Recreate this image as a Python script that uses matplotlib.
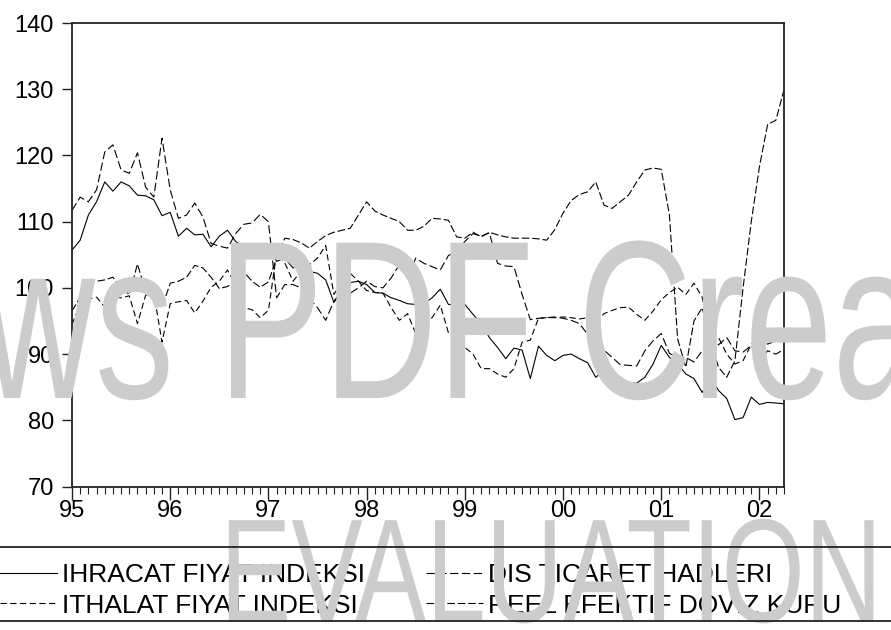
import numpy as np
import matplotlib
matplotlib.use("Agg")
import matplotlib.pyplot as plt
from matplotlib.lines import Line2D
from matplotlib.patches import PathPatch
from matplotlib.textpath import TextPath
from matplotlib.font_manager import FontProperties
from matplotlib.transforms import Affine2D

plt.rcParams["font.family"] = ["Liberation Sans", "DejaVu Sans"]
plt.rcParams["lines.scale_dashes"] = False

W, H = 891, 630

year_labels = ["95", "96", "97", "98", "99", "00", "01", "02"]

# monthly indices, 1995M01 - 2002M04
ihracat = [
    105.7, 107.2, 111.0, 113.0, 116.0, 114.6, 116.0, 115.4, 114.0, 113.9, 113.3, 110.9,
    111.4, 107.8, 109.0, 108.0, 108.1, 106.2, 107.8, 108.7, 107.0, 106.2, 106.5, 105.8,
    106.3, 104.0, 104.5, 103.0, 103.5, 102.5, 102.2, 101.2, 97.8, 99.5, 100.8, 101.0,
    100.5, 99.3, 99.2, 98.5, 98.1, 97.6, 97.5, 97.6, 98.5, 99.8, 97.5, 97.4,
    97.5, 96.0, 94.6, 92.5, 91.0, 89.3, 90.9, 90.6, 86.3, 91.2, 89.8, 89.0,
    89.8, 90.0, 89.3, 88.7, 86.5, 87.5, 87.0, 86.5, 85.6, 85.6, 86.5, 88.5,
    91.3, 89.5, 88.5, 87.0, 86.3, 84.2, 86.5, 84.5, 83.3, 80.1, 80.4, 83.5,
    82.4, 82.7, 82.6, 82.5,
]
ithalat = [
    94.5, 97.5, 98.3, 98.6, 97.1, 98.6, 98.5, 98.8, 94.6, 98.9, 99.2, 91.8,
    97.6, 97.9, 98.1, 96.2, 98.0, 100.1, 101.0, 102.7, 100.4, 97.0, 96.7, 95.5,
    96.6, 105.2, 103.8, 101.0, 102.5, 103.5, 104.5, 106.4, 99.0, 101.0, 102.2, 101.0,
    99.6, 99.3, 99.2, 97.0, 95.1, 96.1, 93.1, 95.0, 95.5, 97.4, 93.2, 92.2,
    91.0, 90.0, 87.8, 87.8, 87.0, 86.5, 87.8, 91.8, 92.1, 95.4, 95.5, 95.5,
    95.6, 95.5, 95.3, 95.5, 94.6, 96.1, 96.6, 97.0, 97.1, 96.0, 95.1, 96.5,
    98.2, 99.3, 100.1, 99.0, 100.7, 98.6, 93.0, 92.5, 90.0, 88.5, 89.0, 91.5,
    92.5, 91.5, 92.0, 92.0,
]
dis_ticaret = [
    111.7, 113.7, 113.0, 114.8, 120.5, 121.6, 117.8, 117.3, 120.4, 115.2, 113.7, 122.6,
    114.8, 110.5, 111.0, 112.8, 110.7, 106.7, 106.3, 106.0, 108.2, 109.6, 109.8, 111.1,
    110.0, 98.5, 100.5, 100.5, 100.0, 98.5, 97.0, 95.1, 98.0, 99.5, 99.2, 100.0,
    101.0, 100.2, 100.0, 101.5, 103.5, 101.6, 104.5, 103.7, 103.2, 102.7, 104.9, 105.4,
    107.0, 108.2, 107.8, 108.3, 103.7, 103.3, 103.2, 99.0, 95.2, 95.4, 95.5, 95.6,
    95.4, 95.1, 94.6, 93.0, 92.0, 90.6, 89.5, 88.4, 88.3, 88.2, 90.5, 92.0,
    93.1, 90.1, 89.5, 89.5, 88.8, 90.5, 92.5, 91.4, 92.5, 90.5, 90.3, 91.3,
    89.0, 90.5, 90.0, 90.7,
]
reel_kur = [
    96.5, 98.6, 100.7, 101.0, 101.2, 101.6, 100.0, 99.0, 103.6, 99.5, 98.5, 97.0,
    100.7, 101.0, 101.6, 103.4, 103.0, 101.6, 99.9, 100.2, 101.0, 102.4, 101.0, 100.1,
    100.9, 104.5, 107.5, 107.3, 106.8, 106.0, 107.0, 107.9, 108.4, 108.7, 109.0, 111.0,
    113.0, 111.6, 111.0, 110.5, 110.0, 108.7, 108.7, 109.3, 110.5, 110.4, 110.2, 107.7,
    107.5, 108.4, 107.7, 108.4, 108.0, 107.7, 107.5, 107.5, 107.5, 107.4, 107.2, 108.8,
    111.3, 113.2, 114.1, 114.5, 116.0, 112.5, 112.0, 113.0, 114.0, 116.0, 117.8, 118.1,
    117.9, 111.0, 92.3, 88.0, 95.0, 97.0, 92.0, 88.0, 86.5, 89.0, 100.0, 110.0,
    118.3, 124.7, 125.3, 129.9,
]

series = [
    ("IHRACAT FIYAT INDEKSI", ihracat, "-"),
    ("ITHALAT FIYAT INDEKSI", ithalat, (0, (4.5, 2.5))),
    ("DIS TICARET HADLERI", dis_ticaret, (0, (6.0, 2.5))),
    ("REEL EFEKTIF DOVIZ KURU", reel_kur, (0, (5.5, 2.0))),
]

fig = plt.figure(figsize=(W / 100, H / 100), dpi=100)
ax = fig.add_axes([72 / W, 1 - 486.5 / H, 712 / W, 463.5 / H])

months = np.arange(len(ihracat))
handles = []
for name, values, style in series:
    (line,) = ax.plot(months, values, color="black", linewidth=0.8, linestyle=style, label=name)
    handles.append(line)

ax.set_xlim(0, len(months) - 1)
ax.set_ylim(70, 140)
ax.set_yticks(range(70, 141, 10))
ax.set_xticks(np.arange(0, len(months), 12))
ax.set_xticklabels(year_labels)
ax.set_xticks(months, minor=True)

for spine in ax.spines.values():
    spine.set_linewidth(1.3)
    spine.set_color("#222222")
ax.tick_params(axis="y", direction="out", length=7, width=1, labelsize=17, pad=6, colors="#222222",
               labelcolor="black")
ax.tick_params(axis="x", which="major", direction="out", length=9, width=1, labelsize=17, pad=1,
               colors="#222222", labelcolor="black")
ax.tick_params(axis="x", which="minor", direction="out", length=5, width=0.8, colors="#222222")

# legend strip under the plot
leg = fig.legend(
    [handles[0], handles[1], handles[2], handles[3]],
    [s[0] for s in series],
    loc="upper left",
    bbox_to_anchor=(0.0, 1 - 563 / H),
    ncol=2,
    frameon=False,
    fontsize=19,
    handlelength=2.16,
    handletextpad=0.2,
    columnspacing=2.3,
    labelspacing=0.25,
    borderpad=0,
    borderaxespad=0,
)
for y in (547, 621):
    fig.add_artist(Line2D([0, 1], [1 - y / H, 1 - y / H], transform=fig.transFigure,
                          color="#222222", linewidth=1.3, zorder=12))


def watermark(text, x0, baseline, em_w, em_h):
    path = TextPath((0, 0), text, size=1, prop=FontProperties(family="Liberation Sans"))
    tr = Affine2D().scale(em_w, em_h).translate(x0, H - baseline).scale(1 / W, 1 / H)
    fig.add_artist(PathPatch(path, transform=tr + fig.transFigure, facecolor="#cccccc",
                             edgecolor="none", zorder=10))


watermark("ws PDF Creator", -19, 398, 158, 225.7)
watermark("EVALUATION", 220, 622, 107, 148)

fig.savefig("out.png", dpi=100)
